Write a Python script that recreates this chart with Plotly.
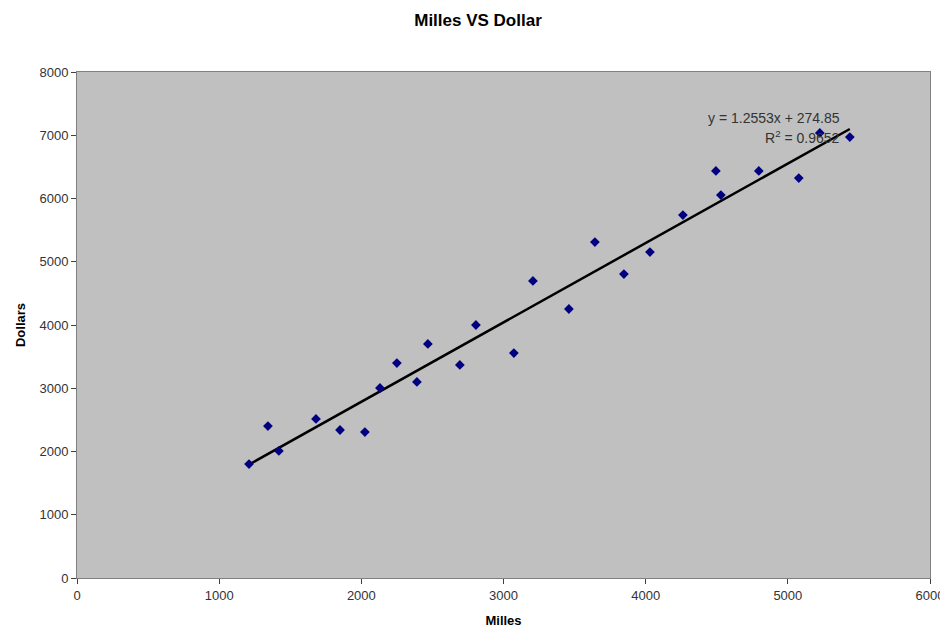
import plotly.graph_objects as go

miles = [1210, 1343, 1420, 1681, 1850, 2025, 2131, 2250, 2391, 2468, 2693, 2806,
         3073, 3207, 3460, 3643, 3847, 4030, 4262, 4494, 4529, 4796, 5077, 5225, 5436]
dollars = [1802, 2403, 2008, 2514, 2340, 2308, 3004, 3399, 3099, 3700, 3368, 4000,
           3557, 4696, 4253, 5312, 4806, 5154, 5739, 6435, 6055, 6435, 6324, 7036, 6972]

slope = 1.2553
intercept = 274.85
r2 = 0.9652

x_ticks = [0, 1000, 2000, 3000, 4000, 5000, 6000]
y_ticks = [0, 1000, 2000, 3000, 4000, 5000, 6000, 7000, 8000]

trend_x = [min(miles), max(miles)]
trend_y = [slope * v + intercept for v in trend_x]

font_family = "Liberation Sans, Arial, Helvetica, sans-serif"

fig = go.Figure()
fig.add_trace(go.Scatter(
    x=trend_x, y=trend_y, mode="lines",
    line=dict(color="black", width=2.5), showlegend=False, hoverinfo="skip"))
fig.add_trace(go.Scatter(
    x=miles, y=dollars, mode="markers",
    marker=dict(symbol="diamond", size=7.5, color="#000080"),
    showlegend=False))

fig.add_annotation(x=5380, y=7273, xref="x", yref="y", xanchor="right", yanchor="middle",
                   text=f"y = {slope}x + {intercept}", showarrow=False,
                   font=dict(size=14, color="#333333", family=font_family))
fig.add_annotation(x=5380, y=6972, xref="x", yref="y", xanchor="right", yanchor="middle",
                   text=f"R<sup>2</sup> = {r2}", showarrow=False,
                   font=dict(size=14, color="#333333", family=font_family))

fig.update_layout(
    width=940, height=621,
    margin=dict(l=69, r=18, t=64, b=51),
    paper_bgcolor="white", plot_bgcolor="#C0C0C0",
    font=dict(family=font_family, color="black", size=13),
    title=dict(text="<b>Milles VS Dollar</b>", x=0.5, xanchor="center", y=0.981, yanchor="middle",
               font=dict(size=17, color="black", family=font_family)),
    xaxis=dict(range=[0, 6000], tickvals=x_ticks, showgrid=False, zeroline=False,
               showline=True, linecolor="#808080", linewidth=1, mirror=True,
               ticks="outside", ticklen=5, tickcolor="#404040", automargin=False,
               title=dict(text="<b>Milles</b>", font=dict(size=13), standoff=14),
               tickfont=dict(size=13, color="#333333")),
    yaxis=dict(range=[0, 8000], tickvals=y_ticks, showgrid=False, zeroline=False,
               showline=True, linecolor="#808080", linewidth=1, mirror=True,
               ticks="outside", ticklen=5, tickcolor="#404040", automargin=False,
               title=dict(text="<b>Dollars</b>", font=dict(size=13), standoff=10),
               tickfont=dict(size=13, color="#333333")),
)

fig.write_html("out.html")
